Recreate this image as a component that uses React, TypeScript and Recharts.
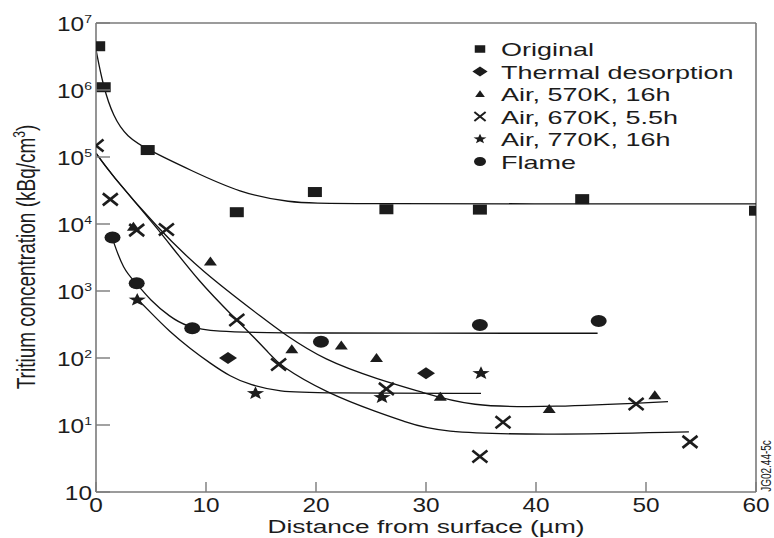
import { ComposedChart, XAxis, YAxis, Line, Scatter, Legend, ReferenceLine } from 'recharts'

const FONT = '"Liberation Sans", Arial, Helvetica, sans-serif'
const INK = '#1c1c1c'
const AXIS = '#7a7a7a'

const xTicks = [0, 10, 20, 30, 40, 50, 60]
const yTicks = [1, 10, 100, 1e3, 1e4, 1e5, 1e6, 1e7]

// measured points
const originalX = [0.2, 0.7, 4.7, 12.8, 19.9, 26.4, 34.9, 44.2, 60]
const originalY = [4.5e6, 1.1e6, 1.27e5, 1.5e4, 3.0e4, 1.66e4, 1.64e4, 2.35e4, 1.58e4]

const thermalX = [12.0, 30.0]
const thermalY = [100, 59]

const air570X = [3.4, 10.4, 17.8, 22.3, 25.5, 31.3, 41.2, 50.8]
const air570Y = [9.1e3, 2.75e3, 135, 154, 100, 26.5, 17.4, 27.7]

const air670X = [0, 1.3, 3.7, 6.4, 12.8, 16.6, 26.4, 34.9, 37.0, 49.1, 54.0]
const air670Y = [1.48e5, 2.33e4, 8.1e3, 8.3e3, 370, 80, 34.6, 3.4, 11, 20.6, 5.6]

const air770X = [3.75, 14.5, 26.0, 35.0]
const air770Y = [735, 29.7, 25.9, 59]

const flameX = [1.5, 3.7, 8.75, 20.45, 34.9, 45.7]
const flameY = [6.3e3, 1.3e3, 278, 175, 310, 357]

// fitted curves
const originalFitX = [0, 0.66, 1.57, 2.79, 4.76, 8.55, 13.1, 17.6, 21.3, 60]
const originalFitY = [4e6, 1.12e6, 4.0e5, 2.0e5, 1.27e5, 6.4e4, 2.9e4, 2.08e4, 2e4, 2e4]

const air570FitX = [0, 1.27, 5.5, 9.45, 15.8, 17.0, 20.7, 25.8, 29.5, 34.0, 41.3, 52]
const air570FitY = [1.14e5, 5.8e4, 9.1e3, 2.05e3, 330, 234, 93, 47, 31.4, 18.8, 18.4, 22.3]

const air670FitX = [0, 1.27, 5.5, 9.45, 12.8, 15.8, 16.6, 21.0, 25.8, 27.9, 31.0, 41.3, 53.9]
const air670FitY = [1.14e5, 5.8e4, 9.1e3, 1.3e3, 370, 117, 78.5, 29.7, 15, 11.5, 7.7, 7.1, 7.9]

const flameFitX = [1.43, 2.48, 3.7, 4.9, 6.7, 8.25, 10.7, 16.7, 45.6]
const flameFitY = [6.5e3, 2.05e3, 1.3e3, 735, 413, 293, 246, 234, 234]

const starFitX = [3.85, 4.9, 6.7, 8.55, 10.4, 12.2, 14.0, 16.7, 20, 35]
const starFitY = [735, 490, 246, 139, 83, 53, 39.5, 31.3, 30, 29.7]

const legendNames = [
  'Original',
  'Thermal desorption',
  'Air, 570K, 16h',
  'Air, 670K, 5.5h',
  'Air, 770K, 16h',
  'Flame',
]
const legendMarks = ['square', 'diamond', 'triangle', 'cross', 'star', 'circle']

const pts = (xs: number[], ys: number[]) => xs.map((x, i) => ({ x, y: ys[i] }))

function starPoints(cx: number, cy: number, r: number, sx: number) {
  const out: string[] = []
  for (let i = 0; i < 10; i++) {
    const a = -Math.PI / 2 + (i * Math.PI) / 5
    const rr = i % 2 === 0 ? r : r * 0.42
    out.push(`${cx + Math.cos(a) * rr * sx},${cy + Math.sin(a) * rr}`)
  }
  return out.join(' ')
}

function mark(kind: string, cx: number, cy: number, s = 1) {
  switch (kind) {
    case 'square':
      return <rect x={cx - 7 * s} y={cy - 5 * s} width={14 * s} height={10 * s} fill={INK} />
    case 'diamond':
      return <polygon points={`${cx},${cy - 6 * s} ${cx + 9 * s},${cy} ${cx},${cy + 6 * s} ${cx - 9 * s},${cy}`} fill={INK} />
    case 'triangle':
      return <polygon points={`${cx},${cy - 5 * s} ${cx + 6.5 * s},${cy + 4 * s} ${cx - 6.5 * s},${cy + 4 * s}`} fill={INK} />
    case 'cross':
      return (
        <g stroke={INK} strokeWidth={2.6 * Math.max(s, 0.8)}>
          <line x1={cx - 7.5 * s} y1={cy - 6 * s} x2={cx + 7.5 * s} y2={cy + 6 * s} />
          <line x1={cx - 7.5 * s} y1={cy + 6 * s} x2={cx + 7.5 * s} y2={cy - 6 * s} />
        </g>
      )
    case 'star':
      return <polygon points={starPoints(cx, cy, 7 * s, 1.3)} fill={INK} />
    default:
      return <ellipse cx={cx} cy={cy} rx={8 * s} ry={6 * s} fill={INK} />
  }
}

const shapeOf = (kind: string) => (p: any) => mark(kind, p.cx, p.cy)

const YTick = (props: any) => {
  const { y, payload } = props
  const exp = Math.round(Math.log10(payload.value))
  return (
    <g>
      <line x1={96} x2={110} y1={y} y2={y} stroke={AXIS} strokeWidth={1.4} />
      <g transform={`translate(92,${y + 7.5}) scale(1.22,1)`}>
        <text textAnchor="end" fontSize={20} fontFamily={FONT} fill={INK}>
          10
          {exp > 0 ? (
            <tspan dy={-8} fontSize={11.5}>
              {exp}
            </tspan>
          ) : null}
        </text>
      </g>
    </g>
  )
}

const XTick = (props: any) => {
  const { x, payload } = props
  return (
    <g>
      <line x1={x} x2={x} y1={492} y2={482} stroke={AXIS} strokeWidth={1.4} />
      <g transform={`translate(${x},512) scale(1.22,1)`}>
        <text textAnchor="middle" fontSize={20} fontFamily={FONT} fill={INK}>
          {payload.value}
        </text>
      </g>
    </g>
  )
}

const renderLegend = () => (
  <svg width={300} height={150}>
    {legendNames.map((name, i) => {
      const cy = 15 + i * 22.5
      return (
        <g key={name}>
          {mark(legendMarks[i], 14, cy, legendMarks[i] === 'diamond' ? 0.85 : 0.75)}
          <g transform={`translate(35,${cy + 7}) scale(1.42,1)`}>
            <text fontSize={19} fontFamily={FONT} fill={INK}>
              {name}
            </text>
          </g>
        </g>
      )
    })}
  </svg>
)

const xLabel = () => (
  <g transform="translate(426,533) scale(1.42,1)">
    <text textAnchor="middle" fontSize={18.5} fontFamily={FONT} fill={INK}>
      Distance from surface (µm)
    </text>
  </g>
)

const yLabel = () => (
  <g transform="translate(35,257) scale(1.4,1) rotate(-90)">
    <text textAnchor="middle" fontSize={19} fontFamily={FONT} fill={INK}>
      Tritium concentration (kBq/cm
      <tspan dy={-7} fontSize={12}>
        3
      </tspan>
      <tspan dy={7}>)</tspan>
    </text>
  </g>
)

const lineStyle = { stroke: '#111', strokeWidth: 1.3 }

export default function App() {
  return (
    <div style={{ position: 'absolute', left: 0, top: 0, width: 774, height: 538, background: '#fff' }}>
      <ComposedChart width={774} height={538} margin={{ top: 23, right: 18, bottom: 0, left: 0 }}>
        <XAxis
          type="number"
          dataKey="x"
          domain={[0, 60]}
          ticks={xTicks}
          allowDataOverflow
          height={46}
          tickSize={0}
          tickLine={false}
          tick={<XTick />}
          axisLine={{ stroke: AXIS, strokeWidth: 1.6 }}
          label={{ content: xLabel }}
        />
        <YAxis
          type="number"
          dataKey="y"
          scale="log"
          domain={[1, 1e7]}
          ticks={yTicks}
          allowDataOverflow
          width={96}
          tickSize={0}
          tickLine={false}
          tick={<YTick />}
          axisLine={{ stroke: AXIS, strokeWidth: 1.6 }}
          label={{ content: yLabel }}
        />
        <ReferenceLine y={1e7} stroke={AXIS} strokeWidth={1.6} />
        <ReferenceLine x={60} stroke={AXIS} strokeWidth={1.6} />

        <Line data={pts(originalFitX, originalFitY)} dataKey="y" type="basis" dot={false} {...lineStyle} isAnimationActive={false} legendType="none" />
        <Line data={pts(air570FitX, air570FitY)} dataKey="y" type="basis" dot={false} {...lineStyle} isAnimationActive={false} legendType="none" />
        <Line data={pts(air670FitX, air670FitY)} dataKey="y" type="basis" dot={false} {...lineStyle} isAnimationActive={false} legendType="none" />
        <Line data={pts(flameFitX, flameFitY)} dataKey="y" type="basis" dot={false} {...lineStyle} isAnimationActive={false} legendType="none" />
        <Line data={pts(starFitX, starFitY)} dataKey="y" type="basis" dot={false} {...lineStyle} isAnimationActive={false} legendType="none" />

        <Scatter name="Original" data={pts(originalX, originalY)} shape={shapeOf('square')} isAnimationActive={false} />
        <Scatter name="Thermal desorption" data={pts(thermalX, thermalY)} shape={shapeOf('diamond')} isAnimationActive={false} />
        <Scatter name="Air, 570K, 16h" data={pts(air570X, air570Y)} shape={shapeOf('triangle')} isAnimationActive={false} />
        <Scatter name="Air, 670K, 5.5h" data={pts(air670X, air670Y)} shape={shapeOf('cross')} isAnimationActive={false} />
        <Scatter name="Air, 770K, 16h" data={pts(air770X, air770Y)} shape={shapeOf('star')} isAnimationActive={false} />
        <Scatter name="Flame" data={pts(flameX, flameY)} shape={shapeOf('circle')} isAnimationActive={false} />

        <Legend
          layout="vertical"
          align="center"
          verticalAlign="middle"
          content={renderLegend}
          wrapperStyle={{ left: 466, top: 34, width: 300, height: 150 }}
        />

        <g transform="translate(771,466) scale(1.4,1) rotate(-90)">
          <text textAnchor="middle" fontSize={10} fontFamily={FONT} fill={INK}>
            JG02.44-5c
          </text>
        </g>
      </ComposedChart>
    </div>
  )
}
